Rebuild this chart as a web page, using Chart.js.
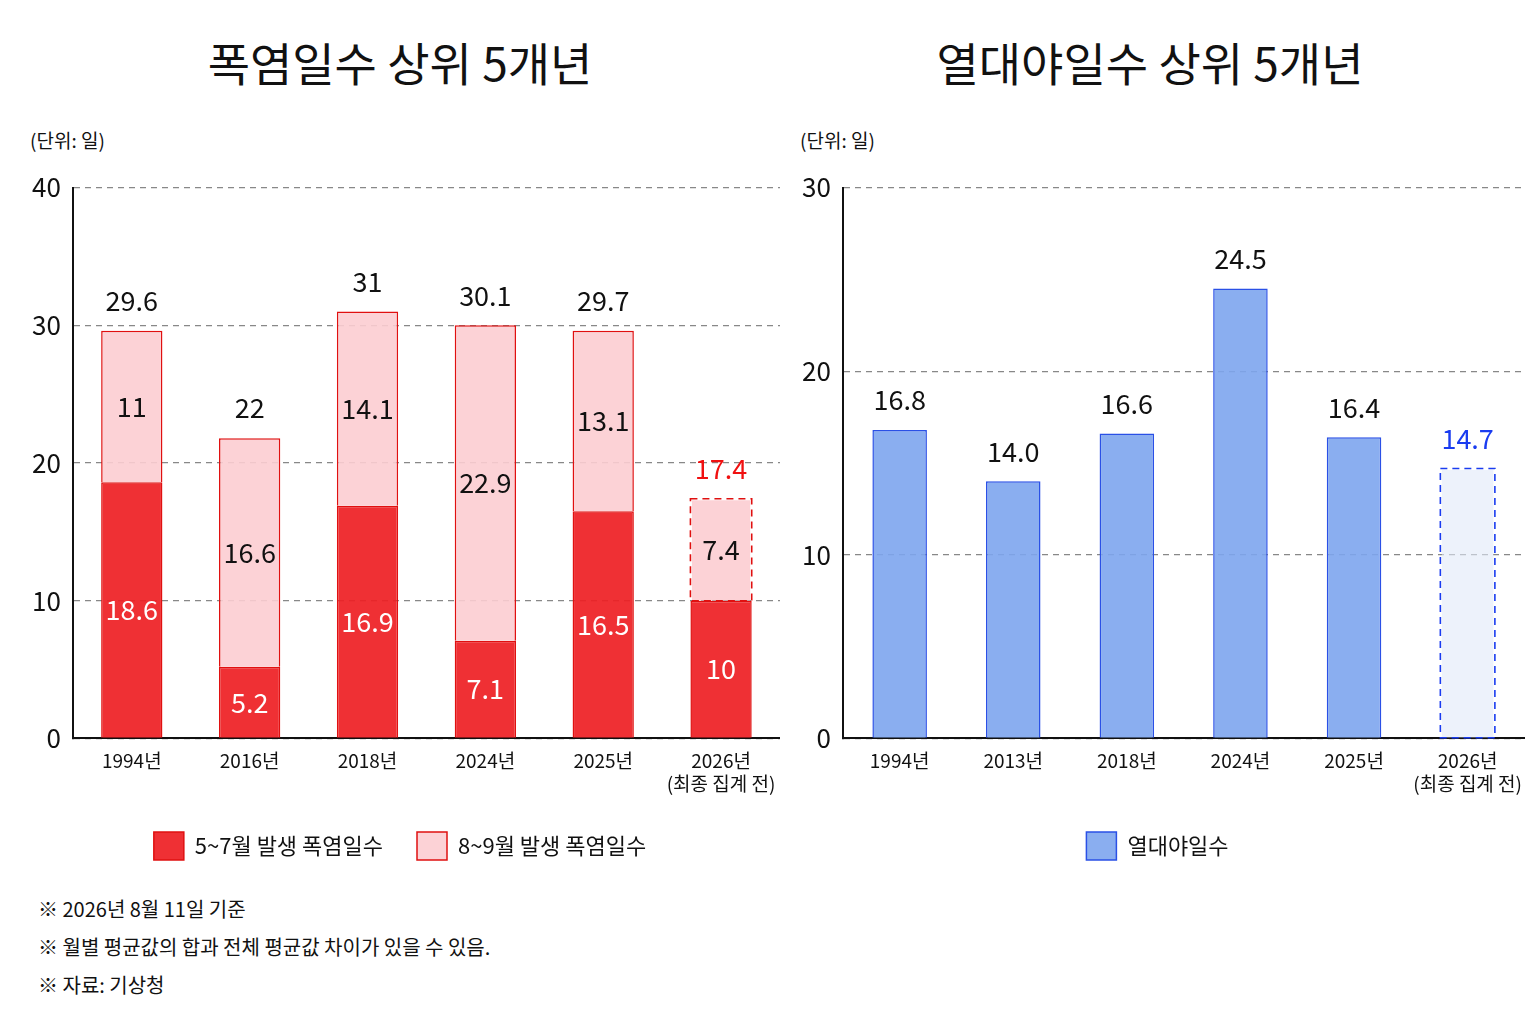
<!DOCTYPE html>
<html><head><meta charset="utf-8">
<script src="https://cdn.jsdelivr.net/npm/chart.js@4/dist/chart.umd.min.js"></script>
<style>
body{margin:0;width:1536px;height:1024px;background:#fff;font-family:"Noto Sans CJK KR",sans-serif;position:relative;overflow:hidden}
.t{position:absolute;font-size:46px;color:#111;text-align:center;top:28px}
.u{position:absolute;font-size:19px;top:126px;color:#111}
.c{position:absolute}
.n{position:absolute;left:38px;font-size:20px;color:#111;line-height:38px;top:890px}
</style></head><body>
<div class="t" style="left:80px;width:640px">폭염일수 상위 5개년</div>
<div class="t" style="left:830px;width:640px">열대야일수 상위 5개년</div>
<div class="u" style="left:30px">(단위: 일)</div>
<div class="u" style="left:800px">(단위: 일)</div>
<div class="c" style="left:20px;top:160px;width:760px;height:710px"><canvas id="c1"></canvas></div>
<div class="c" style="left:790px;top:160px;width:735px;height:710px"><canvas id="c2"></canvas></div>
<div class="n">※ 2026년 8월 11일 기준<br>※ 월별 평균값의 합과 전체 평균값 차이가 있을 수 있음.<br>※ 자료: 기상청</div>
<script>
const heatYears = [["1994년"],["2016년"],["2018년"],["2024년"],["2025년"],["2026년","(최종 집계 전)"]];
const heatMayJul = [18.6, 5.2, 16.9, 7.1, 16.5, 10];
const heatAugSep = [11, 16.6, 14.1, 22.9, 13.1, 7.4];
const heatTotals = ["29.6","22","31","30.1","29.7","17.4"];
const nightYears = [["1994년"],["2013년"],["2018년"],["2024년"],["2025년"],["2026년","(최종 집계 전)"]];
const nightDays = [16.8, 14.0, 16.6, 24.5, 16.4, 14.7];

const FONT = "'Noto Sans CJK KR', sans-serif";
const last = 5;

function axes(max) {
  return {
    x: { stacked: true, grid: { display: false },
         border: { color: "#111", width: 2 },
         ticks: { color: "#111", maxRotation: 0, minRotation: 0, font: { family: FONT, size: 19 } } },
    y: { stacked: true, min: 0, max: max, ticks: { stepSize: 10, color: "#111", padding: 12, font: { family: FONT, size: 26 } },
         border: { color: "#111", width: 2, dash: [6, 5] },
         grid: { color: "#888", lineWidth: 1.3, drawTicks: false }
    }
  };
}

const labelPlugin = {
  id: "labels",
  afterDatasetsDraw(chart, args, opts) {
    const ctx = chart.ctx;
    ctx.save();
    ctx.textAlign = "center";
    ctx.textBaseline = "middle";
    chart.data.datasets.forEach((ds, di) => {
      const meta = chart.getDatasetMeta(di);
      meta.data.forEach((bar, i) => {
        if (ds.dashLast && i === last) {
          ctx.setLineDash([7, 5]);
          ctx.strokeStyle = ds.dashColor;
          ctx.lineWidth = 1.6;
          const w = bar.width;
          ctx.strokeRect(bar.x - w / 2, bar.y, w, bar.base - bar.y);
          ctx.setLineDash([]);
        }
        if (ds.inside) {
          ctx.fillStyle = ds.inside;
          ctx.font = "27px " + FONT;
          ctx.fillText(String(ds.data[i]), bar.x, (bar.y + bar.base) / 2);
        }
      });
    });
    const top = chart.getDatasetMeta(chart.data.datasets.length - 1);
    top.data.forEach((bar, i) => {
      ctx.fillStyle = i === last ? opts.lastColor : "#111";
      ctx.font = "27px " + FONT;
      ctx.fillText(opts.totals[i], bar.x, bar.y - 30);
    });
    ctx.restore();
  }
};

Chart.defaults.font.family = FONT;

new Chart(document.getElementById("c1"), {
  type: "bar",
  data: {
    labels: heatYears,
    datasets: [
      { label: "5~7월 발생 폭염일수", data: heatMayJul, inside: "#fff",
        backgroundColor: "rgba(238,30,35,0.92)", borderColor: "#e01010", borderWidth: 1.5,
        categoryPercentage: 0.52, barPercentage: 1 },
      { label: "8~9월 발생 폭염일수", data: heatAugSep, inside: "#111",
        dashLast: true, dashColor: "#e01010",
        backgroundColor: "rgba(252,205,210,0.9)",
        borderColor: heatAugSep.map((v, i) => i === last ? "rgba(0,0,0,0)" : "#e01010"),
        borderWidth: 1.5, categoryPercentage: 0.52, barPercentage: 1 }
    ]
  },
  options: {
    responsive: true, maintainAspectRatio: false, animation: false,
    scales: axes(40),
    plugins: {
      tooltip: { enabled: false },
      labels: { totals: heatTotals, lastColor: "#f01010" },
      legend: { position: "bottom", labels: { color: "#111", font: { family: FONT, size: 22 },
        boxWidth: 30, boxHeight: 28, padding: 34 } }
    }
  },
  plugins: [labelPlugin]
});

new Chart(document.getElementById("c2"), {
  type: "bar",
  data: {
    labels: nightYears,
    datasets: [
      { label: "열대야일수", data: nightDays, dashLast: true, dashColor: "#1a3cf0",
        backgroundColor: nightDays.map((v, i) => i === last ? "rgba(225,233,248,0.6)" : "rgba(125,165,238,0.9)"),
        borderColor: nightDays.map((v, i) => i === last ? "rgba(0,0,0,0)" : "#2a50e6"),
        borderWidth: 1.5, categoryPercentage: 0.48, barPercentage: 1 }
    ]
  },
  options: {
    responsive: true, maintainAspectRatio: false, animation: false,
    scales: axes(30),
    plugins: {
      tooltip: { enabled: false },
      labels: { totals: nightDays.map(v => v.toFixed(1)), lastColor: "#1a3cf0" },
      legend: { position: "bottom", align: "center", labels: { color: "#111", font: { family: FONT, size: 22 },
        boxWidth: 30, boxHeight: 28, padding: 34 } }
    }
  },
  plugins: [labelPlugin]
});
</script>
</body></html>
